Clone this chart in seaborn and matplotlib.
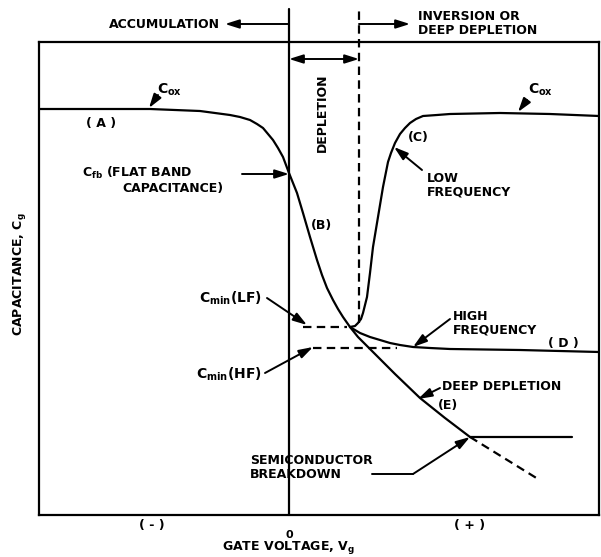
import matplotlib
matplotlib.use("Agg")
import matplotlib.pyplot as plt
import seaborn as sns
import pandas as pd

# Gate voltage (arbitrary units, 0 = flat band) and gate capacitance (arbitrary units)
# Accumulation -> depletion -> deep depletion branch, (A), (B), (E)
v_acc = [-2.50, -1.89, -1.39, -1.14, -0.89, -0.59, -0.49, -0.39, -0.32, -0.26, -0.21,
         -0.16, -0.11, -0.06, -0.03, 0.00, 0.04, 0.08, 0.14, 0.21, 0.28, 0.33, 0.38,
         0.44, 0.49, 0.54, 0.61, 0.69, 0.77, 0.86, 1.06, 1.31, 1.56, 1.81]
c_acc = [4.06, 4.06, 4.06, 4.05, 4.04, 4.00, 3.98, 3.95, 3.91, 3.87, 3.81,
         3.75, 3.67, 3.58, 3.50, 3.42, 3.32, 3.22, 3.02, 2.78, 2.55, 2.40, 2.27,
         2.15, 2.06, 1.98, 1.88, 1.78, 1.70, 1.61, 1.41, 1.17, 0.97, 0.78]

# Low frequency branch (C)
v_lf = [0.61, 0.66, 0.69, 0.72, 0.74, 0.78, 0.81, 0.84, 0.89, 0.94, 0.99, 1.02,
        1.06, 1.11, 1.16, 1.21, 1.27, 1.34, 1.48, 1.61, 2.11, 2.61, 3.10]
c_lf = [1.88, 1.89, 1.92, 1.96, 2.02, 2.18, 2.42, 2.68, 2.98, 3.28, 3.53, 3.62,
        3.72, 3.81, 3.87, 3.92, 3.96, 3.99, 4.00, 4.01, 4.02, 4.01, 3.99]

# High frequency branch (D)
v_hf = [0.61, 0.71, 0.81, 0.91, 1.01, 1.11, 1.24, 1.41, 1.61, 2.31, 3.10]
c_hf = [1.88, 1.82, 1.78, 1.75, 1.72, 1.70, 1.68, 1.67, 1.66, 1.65, 1.63]

# Semiconductor breakdown: clamped capacitance and the extrapolated deep depletion
v_bd = [1.81, 2.83]
c_bd = [0.78, 0.78]
v_bd_ext = [1.81, 2.49]
c_bd_ext = [0.78, 0.36]

# Minimum capacitance levels
v_cmin_lf = [0.14, 0.58]
c_cmin_lf = [1.88, 1.88]
v_cmin_hf = [0.24, 1.08]
c_cmin_hf = [1.67, 1.67]

# Region boundaries
v_fb = 0.0
v_dep_edge = 0.70

sns.set_theme(style="white")
plt.rcParams["font.family"] = ["DejaVu Sans"]
plt.rcParams["font.weight"] = "bold"
plt.rcParams["text.color"] = "black"
plt.rcParams["mathtext.fontset"] = "custom"
plt.rcParams["mathtext.rm"] = "DejaVu Sans:bold"
plt.rcParams["mathtext.it"] = "DejaVu Sans:bold"
plt.rcParams["mathtext.bf"] = "DejaVu Sans:bold"
plt.rcParams["mathtext.default"] = "rm"

fig = plt.figure(figsize=(6.01, 5.57), dpi=100)
ax = fig.add_axes([39 / 601, 42 / 557, 560 / 601, 473 / 557])
ax.set_xlim(-2.50, 3.10)
ax.set_ylim(0, 4.73)
ax.set_xticks([])
ax.set_yticks([])
for s in ax.spines.values():
    s.set_color("black")
    s.set_linewidth(1.6)

K = "black"
LW = 1.6
DASH = (0, (3.8, 2.4))
SMOOTH = dict(solid_joinstyle="round", solid_capstyle="round")

curves = pd.DataFrame({"v": v_acc, "c": c_acc})
sns.lineplot(data=curves, x="v", y="c", sort=False, estimator=None, color=K, lw=LW, ax=ax, **SMOOTH)
sns.lineplot(x=v_lf, y=c_lf, sort=False, estimator=None, color=K, lw=LW, ax=ax, **SMOOTH)
sns.lineplot(x=v_hf, y=c_hf, sort=False, estimator=None, color=K, lw=LW, ax=ax, **SMOOTH)
sns.lineplot(x=v_bd, y=c_bd, sort=False, estimator=None, color=K, lw=LW, ax=ax)
ax.plot(v_bd_ext, c_bd_ext, color=K, lw=LW, linestyle=DASH)
ax.plot(v_cmin_lf, c_cmin_lf, color=K, lw=LW, linestyle=DASH)
ax.plot(v_cmin_hf, c_cmin_hf, color=K, lw=LW, linestyle=DASH)

# Flat band line and depletion edge, extending above the frame
ax.plot([v_fb, v_fb], [0, 5.06], color=K, lw=LW, clip_on=False)
ax.plot([v_dep_edge, v_dep_edge], [1.92, 5.05], color=K, lw=LW, linestyle=DASH, clip_on=False)

FS = 9
ARW = dict(arrowstyle="-|>,head_length=0.7,head_width=0.22", color=K, lw=1.4,
           shrinkA=0, shrinkB=0)
ARW2 = dict(arrowstyle="<|-|>,head_length=0.7,head_width=0.22", color=K, lw=1.4,
            shrinkA=0, shrinkB=0)

# Region labels above the frame
ax.annotate("", xy=(-0.64, 4.91), xytext=(v_fb, 4.91), arrowprops=ARW, annotation_clip=False)
ax.text(-0.69, 4.91, "ACCUMULATION", fontsize=FS, ha="right", va="center", clip_on=False)
ax.annotate("", xy=(1.21, 4.91), xytext=(v_dep_edge, 4.91), arrowprops=ARW, annotation_clip=False)
ax.text(1.29, 4.92, "INVERSION OR\nDEEP DEPLETION", fontsize=FS, ha="left", va="center",
        linespacing=1.1, clip_on=False)
ax.annotate("", xy=(v_dep_edge, 4.56), xytext=(v_fb, 4.56), arrowprops=ARW2)
ax.text(0.33, 4.02, "DEPLETION", fontsize=FS, rotation=90, ha="center", va="center")

# Curve labels
ax.text(-1.32, 4.25, "C$_{ox}$", fontsize=FS + 1, ha="left", va="center")
ax.annotate("", xy=(-1.40, 4.07), xytext=(-1.31, 4.20), arrowprops=ARW)
ax.text(-1.88, 3.92, "( A )", fontsize=FS, ha="center", va="center")

ax.text(-2.07, 3.42, "C$_{fb}$ (FLAT BAND", fontsize=FS, ha="left", va="center")
ax.text(-1.67, 3.27, "CAPACITANCE)", fontsize=FS, ha="left", va="center")
ax.annotate("", xy=(v_fb, 3.41), xytext=(-0.47, 3.41), arrowprops=ARW)

ax.text(0.33, 2.90, "(B)", fontsize=FS, ha="center", va="center")
ax.text(1.29, 3.78, "(C)", fontsize=FS, ha="center", va="center")

ax.text(2.39, 4.25, "C$_{ox}$", fontsize=FS + 1, ha="left", va="center")
ax.annotate("", xy=(2.29, 4.03), xytext=(2.38, 4.15), arrowprops=ARW)

ax.text(1.38, 3.30, "LOW\nFREQUENCY", fontsize=FS, ha="left", va="center", linespacing=1.1)
ax.annotate("", xy=(1.05, 3.68), xytext=(1.33, 3.45), arrowprops=ARW)

ax.text(-0.27, 2.17, "C$_{min}$(LF)", fontsize=FS + 1, ha="right", va="center")
ax.annotate("", xy=(0.18, 1.90), xytext=(-0.22, 2.17), arrowprops=ARW)
ax.text(-0.27, 1.41, "C$_{min}$(HF)", fontsize=FS + 1, ha="right", va="center")
ax.annotate("", xy=(0.24, 1.68), xytext=(-0.24, 1.42), arrowprops=ARW)

ax.text(1.64, 1.92, "HIGH\nFREQUENCY", fontsize=FS, ha="left", va="center", linespacing=1.1)
ax.annotate("", xy=(1.24, 1.68), xytext=(1.61, 1.96), arrowprops=ARW)
ax.text(2.74, 1.71, "( D )", fontsize=FS, ha="center", va="center")

ax.text(1.53, 1.28, "DEEP DEPLETION", fontsize=FS, ha="left", va="center")
ax.annotate("", xy=(1.29, 1.16), xytext=(1.51, 1.27), arrowprops=ARW)
ax.text(1.59, 1.10, "(E)", fontsize=FS, ha="center", va="center")

ax.text(-0.39, 0.48, "SEMICONDUCTOR\nBREAKDOWN", fontsize=FS, ha="left", va="center",
        linespacing=1.1)
ax.plot([0.83, 1.24], [0.41, 0.41], color=K, lw=1.4)
ax.annotate("", xy=(1.81, 0.78), xytext=(1.24, 0.41), arrowprops=ARW)

# Axis annotations
ax.text(-1.37, -0.10, "( - )", fontsize=FS, ha="center", va="center", clip_on=False)
ax.text(v_fb, -0.20, "0", fontsize=FS - 1, ha="center", va="center", clip_on=False)
ax.text(1.81, -0.10, "( + )", fontsize=FS, ha="center", va="center", clip_on=False)
ax.text(v_fb, -0.33, "GATE VOLTAGE, V$_{g}$", fontsize=FS, ha="center", va="center",
        clip_on=False)
ax.text(-2.69, 2.41, "CAPACITANCE, C$_{g}$", fontsize=FS, rotation=90, ha="center",
        va="center", clip_on=False)

fig.savefig("out.png", dpi=100)
